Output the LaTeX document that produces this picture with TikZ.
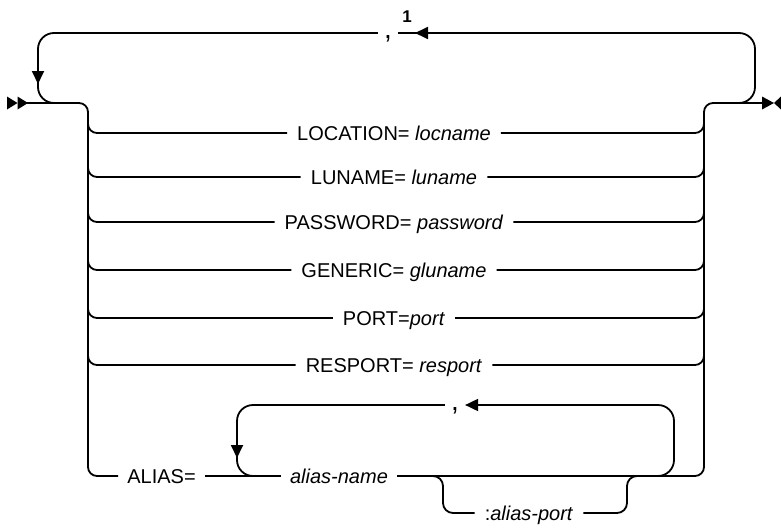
\documentclass[tikz,border=0pt]{standalone}
\usepackage{fontspec}
\setmainfont{Liberation Sans}
\usetikzlibrary{arrows.meta}
\begin{document}
\begin{tikzpicture}[x=1pt,y=-1pt]
\tikzset{
  rail/.style={line width=1.8pt, line join=round},
  opt/.style={inner xsep=10pt, inner ysep=0pt, text height=14pt, text depth=0pt, font=\fontsize{20}{24}\selectfont},
  commal/.style={anchor=base, inner xsep=6pt, inner ysep=0pt, font=\fontsize{28}{30}\selectfont},
  railtip/.style={-{Triangle[length=13pt,width=12pt]}},
}
\useasboundingbox (0,0) rectangle (781,527);

% named coordinates
\coordinate (st) at (27,103);
\coordinate (L0) at (88,103);
\coordinate (L1) at (88,118);
\coordinate (La) at (88,476);
\coordinate (R0) at (704,103);
\coordinate (R1) at (704,118);
\coordinate (Ra) at (704,476);
\coordinate (fin) at (763,103);
\coordinate (TL) at (38,33);
\coordinate (BL) at (38,103);
\coordinate (m1) at (62,103);
\coordinate (TR) at (755,33);
\coordinate (BR) at (755,103);
\coordinate (m2) at (730,103);
\coordinate (ALt) at (237,405);
\coordinate (ALb) at (237,476);
\coordinate (ARt) at (674,405);
\coordinate (ARb) at (674,476);
\coordinate (m3) at (650,476);
\coordinate (p0) at (425,476);
\coordinate (PLt) at (443,476);
\coordinate (PLb) at (443,513);
\coordinate (PRb) at (627,513);
\coordinate (PRt) at (627,476);
\coordinate (p1) at (645,476);
\coordinate (a1s) at (38,62);
\coordinate (a1t) at (38,84);
\coordinate (a2s) at (237,436);
\coordinate (a2t) at (237,458);
\coordinate (a3s) at (430,33);
\coordinate (a3t) at (415,33);

% labels
\node[opt] (n1) at (394,133) {LOCATION= \textit{locname}};
\node[opt] (n2) at (394,177) {LUNAME= \textit{luname}};
\node[opt] (n3) at (394,222) {PASSWORD= \textit{password}};
\node[opt] (n4) at (394,270) {GENERIC= \textit{gluname}};
\node[opt] (n5) at (394,318) {PORT=\textit{port}};
\node[opt] (n6) at (394,365) {RESPORT= \textit{resport}};
\node[opt, inner xsep=9pt] (alias) at (161.5,476) {ALIAS=};
\node[opt, inner xsep=9pt] (an) at (339,476) {\textit{alias-name}};
\node[opt] (ap) at (529,513) {:\textit{alias-port}};
\node[commal] (c1) at (388,38) {,};
\node[commal] (c2) at (455,410) {,};
\node[anchor=base, inner sep=0pt, font=\bfseries\fontsize{17}{20}\selectfont] (s1) at (407,23) {1};

% start and end markers
\fill (7,96.5) -- (17.5,103) -- (7,109.5) -- cycle;
\fill (17.5,96.5) -- (28,103) -- (17.5,109.5) -- cycle;
\fill (762,96.5) -- (774,103) -- (762,109.5) -- cycle;
\fill (781,96.5) -- (774,103) -- (781,109.5) -- cycle;

% left trunk
\draw[rail, rounded corners=9pt] (st) -- (L0) -- (La) -- (alias.west);
% choice rows
\foreach \n in {n1,n2,n3,n4,n5,n6} {
  \draw[rail, rounded corners=9pt] (L1) -- (L1 |- \n.west) -- (\n.west);
  \draw[rail, rounded corners=9pt] (\n.east) -- (R1 |- \n.east) -- (R1);
}
% alias row and right trunk
\draw[rail] (alias.east) -- (an.west);
\draw[rail, rounded corners=9pt] (an.east) -- (Ra) -- (R0) -- (fin);
% alias repeat loop
\draw[rail, rounded corners=16pt, railtip] (m3) -- (ARb) -- (ARt) -- (c2.east |- ARt);
\draw[rail, rounded corners=16pt] (c2.west |- ALt) -- (ALt) -- (ALb) -- (an.west);
\draw[rail, railtip] (a2s) -- (a2t);
% alias-port optional bracket
\draw[rail, rounded corners=10pt] (p0) -- (PLt) -- (PLb) -- (ap.west);
\draw[rail, rounded corners=10pt] (ap.east) -- (PRb) -- (PRt) -- (p1);
% main repeat loop
\draw[rail, rounded corners=16pt] (m2) -- (BR) -- (TR) -- (c1.east |- TR);
\draw[rail, rounded corners=16pt] (c1.west |- TL) -- (TL) -- (BL) -- (m1);
\draw[rail, railtip] (a3s) -- (a3t);
\draw[rail, railtip] (a1s) -- (a1t);
\end{tikzpicture}
\end{document}
